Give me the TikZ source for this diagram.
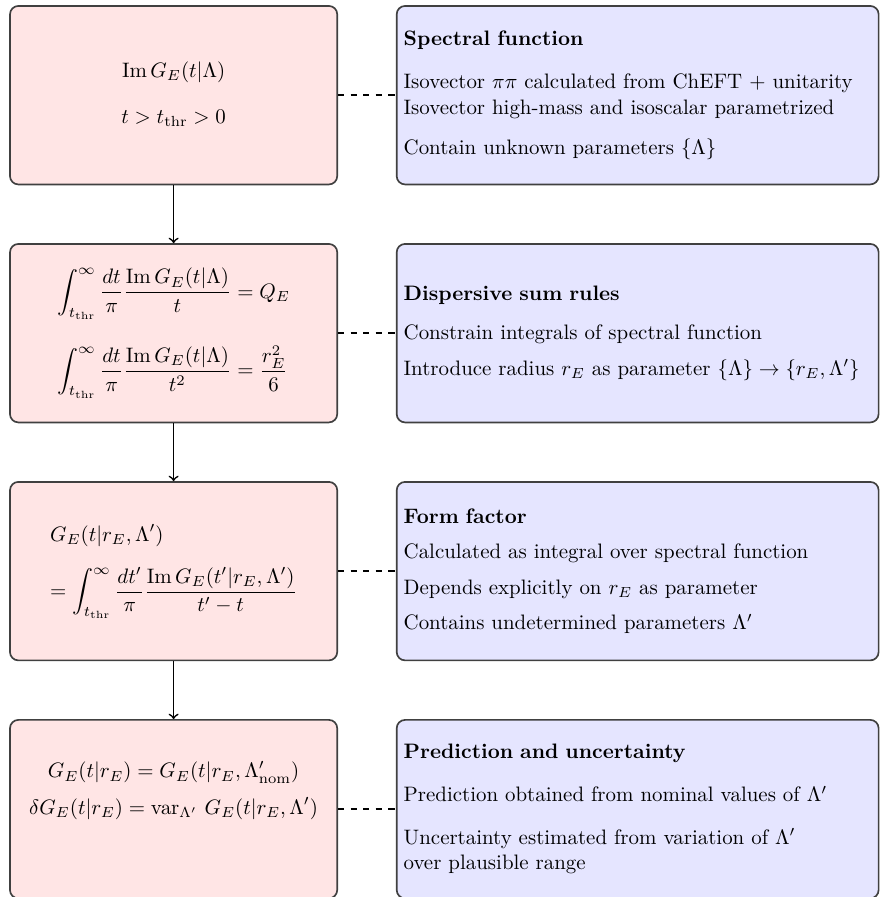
\documentclass[tikz,border=0pt]{standalone}
\usepackage{amsmath}
\begin{document}
\begin{tikzpicture}[
  lbox/.style={draw=black!75, thick, fill=red!10, rounded corners, minimum width=5.5cm, minimum height=3cm, align=center},
  rbox/.style={draw=black!75, thick, fill=blue!10, rounded corners, minimum height=3cm, text width=7.866cm, align=left},
  flow/.style={->, thick},
  link/.style={dashed, thick}
]
\useasboundingbox (0,0) rectangle (14.775,-15.077);

% left column
\node[lbox] (l1) at (2.918,-1.6) {$\begin{gathered}\operatorname{Im} G_E(t|\Lambda)\\[7pt] t > t_{\text{thr}} > 0\end{gathered}$};
\node[lbox] (l2) at (2.918,-5.6) {$\begin{aligned}
 \int_{t_{\text{thr}}}^{\infty}\frac{dt}{\pi}\frac{\operatorname{Im} G_E(t|\Lambda)}{t} &= Q_E\\[8.5pt]
 \int_{t_{\text{thr}}}^{\infty}\frac{dt}{\pi}\frac{\operatorname{Im} G_E(t|\Lambda)}{t^2} &= \frac{r_E^2}{6}
\end{aligned}$};
\node[lbox] (l3) at (2.918,-9.6) {$\begin{array}{@{}l@{}}
 \displaystyle G_E(t|r_E,\Lambda')\\[9pt]
 \displaystyle = \int_{t_{\text{thr}}}^{\infty}\frac{dt'}{\pi}\frac{\operatorname{Im} G_E(t'|r_E,\Lambda')}{t'-t}
\end{array}$};
\node[lbox] (l4) at (2.918,-13.6) {};
\node (t4) at ([yshift=8.6pt]l4.center) {$\begin{gathered}
 G_E(t|r_E) = G_E(t|r_E,\Lambda'_{\text{nom}})\\[2.5pt]
 \delta G_E(t|r_E) = \operatorname{var}_{\Lambda'}\, G_E(t|r_E,\Lambda')
\end{gathered}$};

% right column
\node[rbox] (r1) at (10.718,-1.6) {\textbf{Spectral function}\\[9pt]
Isovector $\pi\pi$ calculated from ChEFT + unitarity\\
Isovector high-mass and isoscalar parametrized\\[7.5pt]
Contain unknown parameters $\{\Lambda\}$};
\node[rbox] (r2) at (10.718,-5.6) {\textbf{Dispersive sum rules}\\[7pt]
Constrain integrals of spectral function\\[5pt]
Introduce radius $r_E$ as parameter $\{\Lambda\}\to\{r_E,\Lambda'\}$};
\node[rbox] (r3) at (10.718,-9.6) {\textbf{Form factor}\\[5pt]
Calculated as integral over spectral function\\[5pt]
Depends explicitly on $r_E$ as parameter\\[5pt]
Contains undetermined parameters $\Lambda'$};
\node[rbox] (r4) at (10.718,-13.6) {\textbf{Prediction and uncertainty}\\[8.5pt]
Prediction obtained from nominal values of $\Lambda'$\\[8.5pt]
Uncertainty estimated from variation of $\Lambda'$\\
over plausible range};

% connectors
\draw[flow] (l1) -- (l2);
\draw[flow] (l2) -- (l3);
\draw[flow] (l3) -- (l4);
\draw[link] (l1) -- (r1);
\draw[link] (l2) -- (r2);
\draw[link] (l3) -- (r3);
\draw[link] (l4) -- (r4);
\end{tikzpicture}
\end{document}
